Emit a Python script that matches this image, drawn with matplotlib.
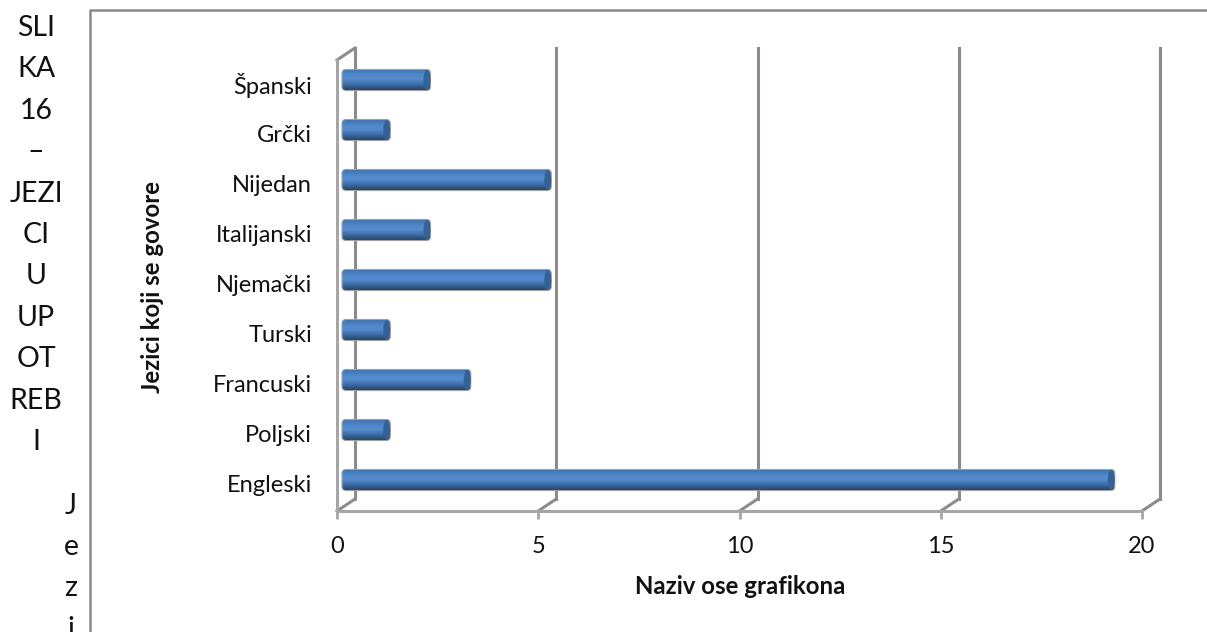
import numpy as np
import matplotlib
matplotlib.use('Agg')
import matplotlib.pyplot as plt
from matplotlib.patches import FancyBboxPatch, Ellipse
from matplotlib.lines import Line2D
from matplotlib.colors import LinearSegmentedColormap
from matplotlib.transforms import ScaledTranslation

plt.rcParams['font.family'] = ['Lato', 'DejaVu Sans']

# Data -----------------------------------------------------------------------------------------------------------------
languages = ['Engleski', 'Poljski', 'Francuski', 'Turski', 'Njemački', 'Italijanski', 'Nijedan', 'Grčki', 'Španski']
speakers = [19, 1, 3, 1, 5, 2, 5, 1, 2]
x_ticks = [0, 5, 10, 15, 20]
side_caption = ['SLI', 'KA', '16', '–', 'JEZI', 'CI', 'U', 'UP', 'OT', 'REB', 'I']
side_word = ['J', 'e', 'z', 'i']

W, H = 1207, 632
fig = plt.figure(figsize=(W / 100, H / 100), dpi=100)
GREY = '#8c8c8c'

# Axes box in pixels ---------------------------------------------------------------------------------------------------
left, right, top, bottom = 337, 1142, 60, 511
ax = fig.add_axes([left / W, 1 - bottom / H, (right - left) / W, (bottom - top) / H])
ax.set_xlim(0, 20)
ax.set_ylim(-0.62, 8.4)
ax.patch.set_visible(False)

px_x = 20 / (right - left)
px_y = 9.02 / (bottom - top)
depth_x = 18 * px_x
depth_y = 12 * px_y

# Back wall and floor of the 3d box
y0, y1 = ax.get_ylim()
for t in x_ticks:
    ax.plot([t + depth_x, t + depth_x], [y0 + depth_y, y1 + depth_y], color=GREY, lw=2.2, clip_on=False, zorder=1)
    ax.plot([t, t + depth_x], [y0, y0 + depth_y], color=GREY, lw=2.2, clip_on=False, zorder=1)
ax.plot([0, depth_x], [y1, y1 + depth_y], color=GREY, lw=2.2, clip_on=False, zorder=1)

for s in ['top', 'right']:
    ax.spines[s].set_visible(False)
for s in ['left', 'bottom']:
    ax.spines[s].set_color('#a6a6a6')
    ax.spines[s].set_linewidth(2.2)
    ax.spines[s].set_zorder(1)

# Cylinders ------------------------------------------------------------------------------------------------------------
bar_cmap = LinearSegmentedColormap.from_list('cyl', [(0, '#3f6fa8'), (0.3, '#5088cc'), (0.5, '#548ccf'),
                                                     (0.75, '#3c6ca6'), (1, '#234468')])
bar_h = 21 * px_y
shift = 5 * px_x
tip = 8 * px_x
grad = np.linspace(0, 1, 64).reshape(-1, 1)
ypos = np.arange(len(languages))
bars = ax.barh(ypos, speakers, height=bar_h, left=shift, color='#4a7ebb', zorder=3)
for b, v in zip(bars, speakers):
    b.set_width(v + tip - shift + 5 * px_x)
    x, y, w, h = b.get_x(), b.get_y(), b.get_width(), b.get_height()
    b.set_visible(False)
    clip = FancyBboxPatch((x, y), w, h, boxstyle='round,pad=0,rounding_size=%f' % (4 * px_x),
                          mutation_aspect=px_y / px_x, fc='none', ec='#a0a0a0', lw=0.8, zorder=5)
    ax.add_patch(clip)
    im = ax.imshow(grad, extent=(x, x + w, y, y + h), origin='upper', aspect='auto', cmap=bar_cmap, zorder=4)
    im.set_clip_path(clip)
    ax.add_patch(Ellipse((x + w - 3.5 * px_x, y + h / 2), 7 * px_x, h * 0.96, fc='#33629b', ec='none', zorder=6))
ax.set_xlim(0, 20)
ax.set_ylim(y0, y1)

# Ticks and labels -----------------------------------------------------------------------------------------------------
ax.set_xticks(x_ticks)
ax.set_xticklabels(x_ticks, fontsize=17, color='#111111')
ax.set_yticks(ypos)
ax.set_yticklabels(languages, fontsize=17, color='#111111')
ax.tick_params(axis='y', length=0, pad=18)
ax.tick_params(axis='x', length=6, width=2, color='#a6a6a6', pad=12)
# labels sit a bit under the bars in the original
for lab in ax.get_yticklabels():
    lab.set_transform(lab.get_transform() + ScaledTranslation(0, -4 / 100, fig.dpi_scale_trans))

fig.text(740 / W, 1 - 587 / H, 'Naziv ose grafikona', fontsize=17.3, fontweight='bold', ha='center', va='center',
         color='#111111')
fig.text(152 / W, 1 - 287 / H, 'Jezici koji se govore', fontsize=17.3, fontweight='bold', rotation=90, ha='center',
         va='center', color='#111111')

# Outer frame of the page object
fig.add_artist(Line2D([90 / W, 90 / W, 1], [0, 1 - 10 / H, 1 - 10 / H], color='#8a8a8a', lw=1.8))

# Text squeezed in the narrow column on the left
for i, s in enumerate(side_caption):
    fig.text(36 / W, 1 - (28 + 41.4 * i) / H, s, fontsize=20.5, ha='center', va='center', color='#111111')
for i, s in enumerate(side_word):
    fig.text(71 / W, 1 - (506 + 41 * i) / H, s, fontsize=20.5, ha='center', va='center', color='#111111')

fig.savefig('out.png', dpi=100)
